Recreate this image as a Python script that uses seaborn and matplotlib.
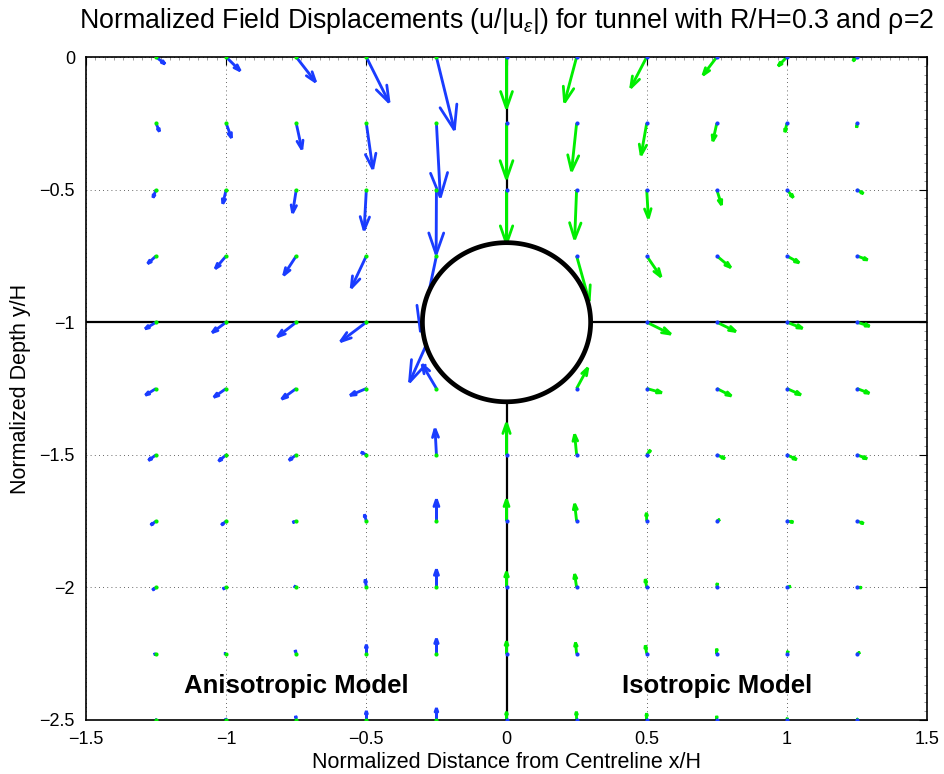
import numpy as np
import pandas as pd
import matplotlib
matplotlib.use("Agg")
import matplotlib.pyplot as plt
from matplotlib.ticker import MultipleLocator
from matplotlib.collections import LineCollection
import seaborn as sns

# ---------------- data ----------------
y_rows = [0.0, -0.25, -0.5, -0.75, -1.0, -1.25, -1.5, -1.75, -2.0, -2.25, -2.5]
x_aniso = [-1.25, -1.0, -0.75, -0.5, -0.25]
x_iso = [0.0, 0.25, 0.5, 0.75, 1.0, 1.25]
nan = np.nan

aniso_u = [
    [0.032, 0.050, 0.069, 0.081, 0.064],
    [0.012, 0.019, 0.020, 0.023, 0.014],
    [-0.011, -0.012, -0.013, -0.008, -0.001],
    [-0.030, -0.039, -0.045, -0.054, -0.057],
    [-0.039, -0.050, -0.067, -0.092, -0.096],
    [-0.038, -0.044, -0.052, -0.058, -0.051],
    [-0.027, -0.027, -0.026, -0.019, -0.005],
    [-0.019, -0.017, -0.013, -0.007, 0.000],
    [-0.013, -0.012, -0.008, -0.004, 0.000],
    [-0.008, -0.007, -0.004, 0.000, 0.000],
    [-0.003, -0.002, -0.002, 0.000, 0.000],
]
aniso_v = [
    [-0.026, -0.052, -0.094, -0.171, -0.275],
    [-0.031, -0.055, -0.098, -0.172, -0.279],
    [-0.030, -0.053, -0.088, -0.153, -0.244],
    [-0.029, -0.048, -0.073, -0.121, -0.287],
    [-0.025, -0.039, -0.055, -0.073, -0.226],
    [-0.025, -0.033, -0.040, -0.026, 0.091],
    [-0.021, -0.024, -0.021, 0.010, 0.098],
    [-0.015, -0.015, -0.005, 0.025, 0.082],
    [-0.010, -0.006, 0.005, 0.030, 0.068],
    [-0.003, 0.000, 0.013, 0.034, 0.057],
    [0.002, 0.006, 0.015, 0.034, 0.045],
]
iso_u = [
    [0.0, -0.043, -0.057, -0.049, -0.031, -0.015],
    [0.0, -0.018, -0.020, -0.014, -0.007, -0.001],
    [0.0, -0.007, 0.006, 0.017, 0.023, 0.023],
    [nan, 0.045, 0.051, 0.050, 0.044, 0.038],
    [nan, nan, 0.086, 0.068, 0.056, 0.045],
    [nan, 0.040, 0.054, 0.052, 0.050, 0.044],
    [0.0, -0.007, 0.014, 0.029, 0.035, 0.036],
    [0.0, -0.007, -0.001, 0.011, 0.023, 0.024],
    [0.0, -0.007, -0.005, 0.002, 0.014, 0.017],
    [0.0, -0.004, -0.005, 0.000, 0.005, 0.011],
    [0.0, -0.001, 0.000, 0.000, 0.002, 0.004],
]
iso_v = [
    [-0.194, -0.171, -0.116, -0.068, -0.034, -0.015],
    [-0.210, -0.180, -0.120, -0.067, -0.033, -0.016],
    [-0.204, -0.187, -0.108, -0.058, -0.030, -0.015],
    [nan, -0.170, -0.079, -0.044, -0.026, -0.015],
    [nan, nan, -0.045, -0.035, -0.023, -0.015],
    [nan, 0.078, -0.016, -0.028, -0.024, -0.018],
    [0.120, 0.077, 0.018, -0.014, -0.018, -0.015],
    [0.082, 0.065, 0.031, 0.006, -0.004, -0.009],
    [0.059, 0.050, 0.031, 0.016, 0.004, -0.001],
    [0.047, 0.042, 0.031, 0.019, 0.010, 0.005],
    [0.031, 0.031, 0.025, 0.015, 0.008, 0.005],
]

tunnel_center = (0.0, -1.0)
tunnel_radius = 0.3
xticks = [-1.5, -1, -0.5, 0, 0.5, 1, 1.5]
xticklabels = ["\u22121.5", "\u22121", "\u22120.5", "0", "0.5", "1", "1.5"]
yticks = [0, -0.5, -1, -1.5, -2, -2.5]
yticklabels = ["0", "\u22120.5", "\u22121", "\u22121.5", "\u22122", "\u22122.5"]

# ---------------- style ----------------
sns.set_theme(style="white")
plt.rcParams["font.family"] = ["Liberation Sans", "DejaVu Sans"]
plt.rcParams["mathtext.fontset"] = "custom"
plt.rcParams["mathtext.rm"] = "Liberation Sans"
plt.rcParams["mathtext.it"] = "Liberation Sans:italic"
for key in ["text.color", "axes.labelcolor", "xtick.color", "ytick.color"]:
    plt.rcParams[key] = "black"

BLUE = "#1a3cff"
GREEN = "#00ee00"

fig = plt.figure(figsize=(9.45, 7.74), dpi=100)
ax = fig.add_axes([0.091, 0.0698, 0.890, 0.8565])


def to_frame(xs, u, v):
    X, Y = np.meshgrid(xs, y_rows)
    U = np.array(u, dtype=float)
    V = np.array(v, dtype=float)
    df = pd.DataFrame({"x": X.ravel(), "y": Y.ravel(), "u": U.ravel(), "v": V.ravel()})
    return df.dropna().reset_index(drop=True)


dfa = to_frame(x_aniso, aniso_u, aniso_v)
dfi = to_frame(x_iso, iso_u, iso_v)

# reference lines
cx, cy = tunnel_center
ax.plot([-1.5, cx - tunnel_radius], [cy, cy], color="black", lw=1.6, zorder=1)
ax.plot([cx + tunnel_radius, 1.5], [cy, cy], color="black", lw=1.6, zorder=1)
ax.plot([cx, cx], [0, cy + tunnel_radius], color="black", lw=1.6, zorder=1)
ax.plot([cx, cx], [cy - tunnel_radius, -2.5], color="black", lw=1.6, zorder=1)


def matlab_quiver(df, color, z):
    # shafts drawn by the library's quiver (headless), heads as MATLAB-style open barbs
    ax.quiver(df["x"], df["y"], df["u"], df["v"], color=color, angles="xy",
              scale_units="xy", scale=1, width=0.0034, headwidth=1, headlength=0,
              headaxislength=0, minlength=0, zorder=z)
    alpha, beta = 0.33, 0.33
    x, y, u, v = df["x"].values, df["y"].values, df["u"].values, df["v"].values
    tx, ty = x + u, y + v
    h1 = np.stack([tx - alpha * (u + beta * v), ty - alpha * (v - beta * u)], axis=1)
    h2 = np.stack([tx - alpha * (u - beta * v), ty - alpha * (v + beta * u)], axis=1)
    tip = np.stack([tx, ty], axis=1)
    segs = [np.array([a, t, b]) for a, t, b in zip(h1, tip, h2)]
    ax.add_collection(LineCollection(segs, colors=color, linewidths=2.0,
                                     capstyle="round", joinstyle="miter", zorder=z))


matlab_quiver(dfa, BLUE, 2)
matlab_quiver(dfi, GREEN, 2.1)

# base markers of the companion field
sns.scatterplot(data=dfa, x="x", y="y", color=GREEN, s=9, linewidth=0, ax=ax, zorder=3)
sns.scatterplot(data=dfi, x="x", y="y", color=BLUE, s=9, linewidth=0, ax=ax, zorder=3)

# tunnel
theta = np.linspace(0, 2 * np.pi, 400)
ax.fill(cx + tunnel_radius * np.cos(theta), cy + tunnel_radius * np.sin(theta),
        facecolor="white", edgecolor="black", lw=3.4, zorder=4)

ax.text(-0.75, -2.37, "Anisotropic Model", ha="center", va="center",
        fontsize=18.5, fontweight="bold", color="black", zorder=5)
ax.text(0.75, -2.37, "Isotropic Model", ha="center", va="center",
        fontsize=18.5, fontweight="bold", color="black", zorder=5)

ax.set_xlim(-1.5, 1.5)
ax.set_ylim(-2.5, 0)
ax.set_xticks(xticks)
ax.set_xticklabels(xticklabels)
ax.set_yticks(yticks)
ax.set_yticklabels(yticklabels)
ax.xaxis.set_minor_locator(MultipleLocator(0.5 / 15))
ax.yaxis.set_minor_locator(MultipleLocator(0.5 / 15))
ax.tick_params(which="major", direction="in", length=6, width=0.8, top=True, right=True,
               labelsize=13, pad=8, colors="black")
ax.tick_params(which="minor", direction="in", length=2.5, width=0.5, top=True, right=True,
               color="#777777")
ax.grid(True, which="major", linestyle=(0, (1, 4)), color="black", lw=0.6, alpha=0.8)
for s in ax.spines.values():
    s.set_color("black")
    s.set_linewidth(1.2)

ax.set_xlabel("Normalized Distance from Centreline x/H", fontsize=15.5, labelpad=3, color="black")
ax.set_ylabel("Normalized Depth y/H", fontsize=15.5, labelpad=6, color="black")
ax.set_title("Normalized Field Displacements (u/|u$_\\varepsilon$|) for tunnel with R/H=0.3 and \u03c1=2",
             fontsize=19.3, pad=21, color="black")

fig.savefig("out.png", dpi=100)
